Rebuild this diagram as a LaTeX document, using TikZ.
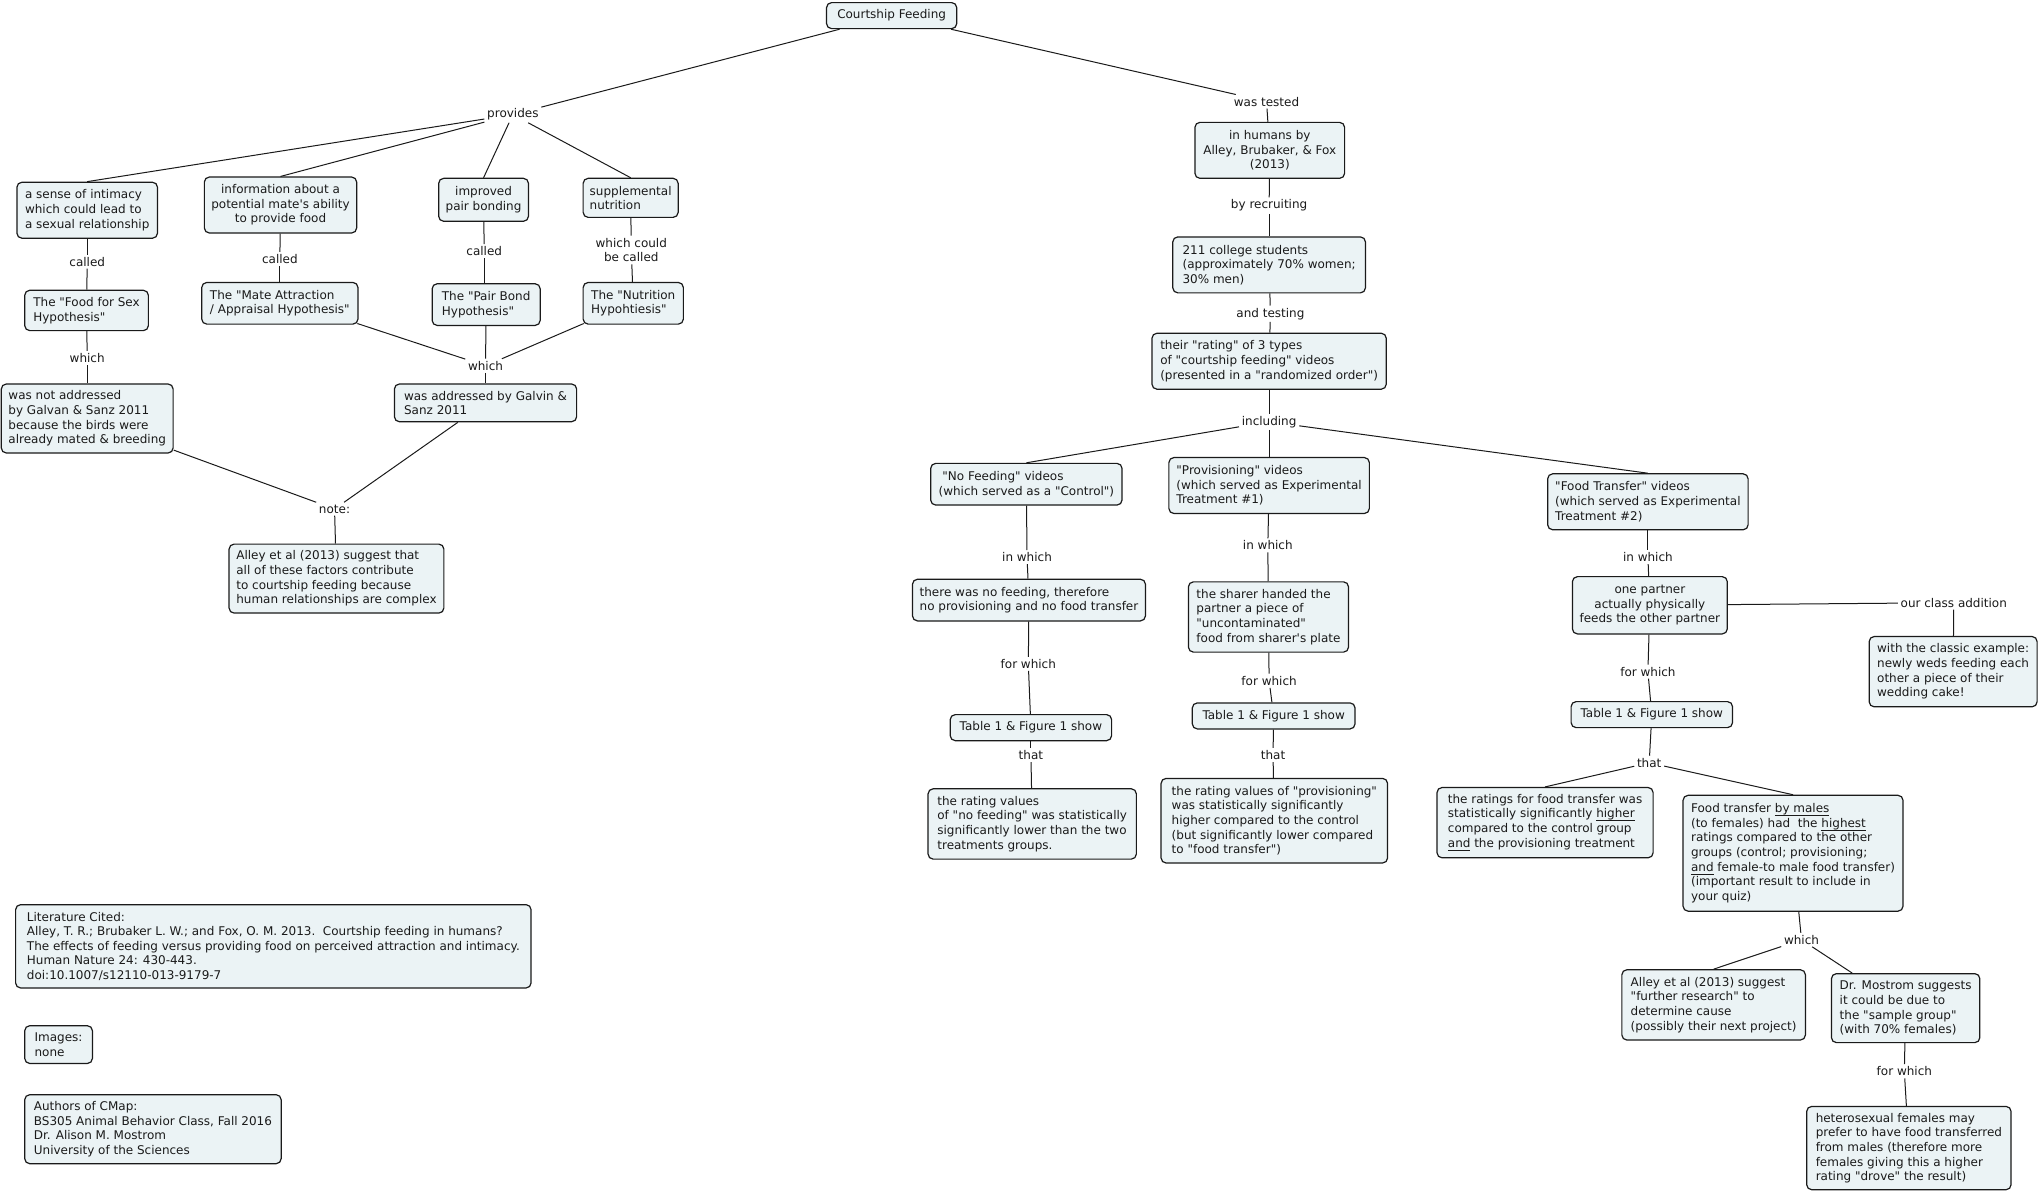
\documentclass[tikz,border=0pt]{standalone}
\usepackage{fontspec}
\setmainfont{DejaVu Sans}[Ligatures=TeXOff]
\definecolor{boxfill}{HTML}{EBF3F5}
\definecolor{ink}{HTML}{1A1A1A}
\newcommand\cmul[1]{\underline{\smash{#1}}}
\tikzset{
  concept/.style={draw=ink, line width=0.6pt, fill=boxfill, rounded corners=2.5pt, inner xsep=3pt, inner ysep=2pt},
  lp/.style={inner xsep=1.2pt, inner ysep=1pt},
  conn/.style={draw=ink, line width=0.5pt},
  sz/.style 2 args={minimum width=#1*0.651pt, minimum height=#2*0.651pt}
}
\begin{document}
\begin{tikzpicture}[x=0.651pt,y=-0.651pt,
  every node/.style={font=\fontsize{6}{7.33}\selectfont, text=ink}]
\path[use as bounding box, fill=white] (0,0) rectangle (1568,917);

% ---------- concepts, left part ----------
\node[concept,sz={100}{20}] (cf) at (685,12) {Courtship Feeding};
\node[concept,sz={108}{43},align=left] (sense) at (67,161.5) {a sense of intimacy\\which could lead to\\a sexual relationship};
\node[concept,sz={117}{43},align=center] (info) at (215.5,157.5) {information about a\\potential mate's ability\\to provide food};
\node[concept,sz={69}{33},align=center] (impr) at (371.5,153.5) {improved\\pair bonding};
\node[concept,sz={73}{30},align=left] (supp) at (484.5,152) {supplemental\\nutrition};
\node[concept,sz={95}{31},align=left] (hfs) at (66.5,238.5) {The "Food for Sex\\Hypothesis"};
\node[concept,sz={120}{32},align=left] (hma) at (215,233) {The "Mate Attraction\\/ Appraisal Hypothesis"};
\node[concept,sz={83}{32},align=left] (hpb) at (373.5,234) {The "Pair Bond\\Hypothesis"};
\node[concept,sz={77}{32},align=left] (hn) at (486.5,233) {The "Nutrition\\Hypohtiesis"};
\node[concept,sz={132}{53},align=left] (notad) at (67,321.5) {was not addressed\\by Galvan \& Sanz 2011\\because the birds were\\already mated \& breeding};
\node[concept,sz={140}{29},align=left] (ad) at (373,309.5) {was addressed by Galvin \&\\Sanz 2011};
\node[concept,sz={165}{53},align=left] (alley1) at (258.5,444.5) {Alley et al (2013) suggest that\\all of these factors contribute\\to courtship feeding because\\human relationships are complex};

% ---------- concepts, right part ----------
\node[concept,sz={115}{43},align=center] (hum) at (975.5,115.5) {in humans by\\Alley, Brubaker, \& Fox\\(2013)};
\node[concept,sz={148}{43},align=left] (stud) at (975,203.5) {211 college students\\(approximately 70\% women;\\30\% men)};
\node[concept,sz={180}{43},align=left] (rate) at (975,277.5) {their "rating" of 3 types\\of "courtship feeding" videos\\(presented in a "randomized order")};
\node[concept,sz={147}{32},align=left] (nf) at (788.5,372) {\ "No Feeding" videos\\(which served as a "Control")};
\node[concept,sz={154}{43},align=left] (pv) at (975,373) {"Provisioning" videos\\(which served as Experimental\\Treatment \#1)};
\node[concept,sz={154}{43},align=left] (ft) at (1266,385.5) {"Food Transfer" videos\\(which served as Experimental\\Treatment \#2)};
\node[concept,sz={179}{32},align=left] (nf2) at (790.5,461) {there was no feeding, therefore\\no provisioning and no food transfer};
\node[concept,sz={123}{54},align=left] (sh) at (974.5,474) {the sharer handed the\\partner a piece of\\"uncontaminated"\\food from sharer's plate};
\node[concept,sz={119}{44},align=center] (op) at (1267.5,465) {one partner\\actually physically\\feeds the other partner};
\node[concept,sz={129}{54},align=left] (cake) at (1500.5,516) {with the classic example:\\newly weds feeding each\\other a piece of their\\wedding cake!};
\node[concept,sz={124}{20}] (t1) at (792,559) {Table 1 \& Figure 1 show};
\node[concept,sz={125}{20}] (t2) at (978.5,550) {Table 1 \& Figure 1 show};
\node[concept,sz={124}{20}] (t3) at (1269,549) {Table 1 \& Figure 1 show};
\node[concept,sz={160}{54},align=left] (r1) at (793,633) {the rating values\\of "no feeding" was statistically\\significantly lower than the two\\treatments groups.};
\node[concept,sz={174}{65},align=left] (r2) at (979,630.5) {the rating values of "provisioning"\\was statistically significantly\\higher compared to the control\\(but significantly lower compared\\to "food transfer")};
\node[concept,sz={166}{54},align=left] (r3) at (1187,632) {the ratings for food transfer was\\statistically significantly \cmul{higher}\\compared to the control group\\\cmul{and} the provisioning treatment};
\node[concept,sz={169}{89},align=left] (r4) at (1377.5,655.5) {Food transfer \cmul{by males}\\(to females) had\ \ the \cmul{highest}\\ratings compared to the other\\groups (control; provisioning;\\\cmul{and} female-to male food transfer)\\(important result to include in\\your quiz)};
\node[concept,sz={141}{54},align=left] (a2) at (1316.5,772) {Alley et al (2013) suggest\\"further research" to\\determine cause\\(possibly their next project)};
\node[concept,sz={114}{53},align=left] (dm) at (1464,774.5) {Dr. Mostrom suggests\\it could be due to\\the "sample group"\\(with 70\% females)};
\node[concept,sz={157}{64},align=left] (het) at (1466.5,882) {heterosexual females may\\prefer to have food transferred\\from males (therefore more\\females giving this a higher\\rating "drove" the result)};

% ---------- standalone info boxes ----------
\node[concept,sz={396}{64},align=left] (lit) at (210,727) {Literature Cited:\\Alley, T. R.; Brubaker L. W.; and Fox, O. M. 2013.\ \ Courtship feeding in humans?\\The effects of feeding versus providing food on perceived attraction and intimacy.\\Human Nature 24: 430-443.\\doi:10.1007/s12110-013-9179-7};
\node[concept,sz={52}{29},align=left] (img) at (45,802.5) {Images:\\none};
\node[concept,sz={197}{53},align=left] (auth) at (117.5,867.5) {Authors of CMap:\\BS305 Animal Behavior Class, Fall 2016\\Dr. Alison M. Mostrom\\University of the Sciences};

% ---------- linking phrases ----------
\node[lp] (lprov) at (394,88) {provides};
\node[lp] (lc1) at (67,201) {called};
\node[lp] (lc2) at (215,199) {called};
\node[lp] (lc3) at (372,193) {called};
\node[lp,align=center] (lc4) at (485,192) {which could\\be called};
\node[lp] (lw1) at (67,275) {which};
\node[lp] (lw2) at (373,281) {which};
\node[lp] (lnote) at (257,391) {note:};
\node[lp] (ltest) at (973,78) {was tested};
\node[lp] (lrec) at (975,158) {by recruiting};
\node[lp] (ltst) at (976,241) {and testing};
\node[lp] (linc) at (975,324) {including};
\node[lp] (liw1) at (789,428) {in which};
\node[lp] (liw2) at (974,419) {in which};
\node[lp] (liw3) at (1266,428) {in which};
\node[lp] (lfw1) at (790,510) {for which};
\node[lp] (lfw2) at (975,523) {for which};
\node[lp] (lfw3) at (1266,516) {for which};
\node[lp] (lth1) at (792,580) {that};
\node[lp] (lth2) at (978,580) {that};
\node[lp] (lth3) at (1267,586) {that};
\node[lp] (lclass) at (1501,463) {our class addition};
\node[lp] (lw3) at (1384,722) {which};
\node[lp] (lfw4) at (1463,823) {for which};

% ---------- connectors, left ----------
\draw[conn] (cf) -- (lprov);
\draw[conn] (lprov) -- (sense.north);
\draw[conn] (lprov) -- (info.north);
\draw[conn] (lprov) -- (impr.north);
\draw[conn] (lprov) -- (supp.north);
\draw[conn] (sense) -- (lc1);
\draw[conn] (lc1) -- (hfs);
\draw[conn] (info) -- (lc2);
\draw[conn] (lc2) -- (hma.north -| lc2);
\draw[conn] (impr) -- (lc3);
\draw[conn] (lc3) -- (hpb.north -| lc3);
\draw[conn] (supp) -- (lc4);
\draw[conn] (lc4) -- (hn);
\draw[conn] (hfs) -- (lw1);
\draw[conn] (lw1) -- (notad.north -| lw1);
\draw[conn] ([xshift=-0.6pt,yshift=0.6pt]hma.south east) -- (lw2);
\draw[conn] (hpb) -- (lw2);
\draw[conn] ([xshift=0.6pt,yshift=0.6pt]hn.south west) -- (lw2);
\draw[conn] (lw2) -- (ad);
\draw[conn] (notad) -- (lnote);
\draw[conn] (ad) -- (lnote);
\draw[conn] (lnote) -- (alley1);

% ---------- connectors, right ----------
\draw[conn] (cf) -- (ltest);
\draw[conn] (ltest) -- (hum);
\draw[conn] (hum) -- (lrec);
\draw[conn] (lrec) -- (stud);
\draw[conn] (stud) -- (ltst);
\draw[conn] (ltst) -- (rate);
\draw[conn] (rate) -- (linc);
\draw[conn] (linc) -- (nf.north);
\draw[conn] (linc) -- (pv);
\draw[conn] (linc) -- (ft.north);
\draw[conn] (nf) -- (liw1);
\draw[conn] (liw1) -- (nf2);
\draw[conn] (pv) -- (liw2);
\draw[conn] (liw2) -- (sh);
\draw[conn] (ft) -- (liw3);
\draw[conn] (liw3) -- (op);
\draw[conn] (nf2) -- (lfw1);
\draw[conn] (lfw1) -- (t1);
\draw[conn] (sh) -- (lfw2);
\draw[conn] (lfw2) -- (t2);
\draw[conn] (op) -- (lfw3);
\draw[conn] (lfw3) -- (t3);
\draw[conn] (t1) -- (lth1);
\draw[conn] (lth1) -- (r1);
\draw[conn] (t2) -- (lth2);
\draw[conn] (lth2) -- (r2);
\draw[conn] (t3) -- (lth3);
\draw[conn] (lth3) -- (r3.north);
\draw[conn] (lth3) -- (r4.north);
\draw[conn] (op) -- (lclass);
\draw[conn] (lclass) -- (cake);
\draw[conn] (r4) -- (lw3);
\draw[conn] (lw3) -- (a2.north);
\draw[conn] (lw3) -- (dm);
\draw[conn] (dm) -- (lfw4);
\draw[conn] (lfw4) -- (het);
\end{tikzpicture}
\end{document}
